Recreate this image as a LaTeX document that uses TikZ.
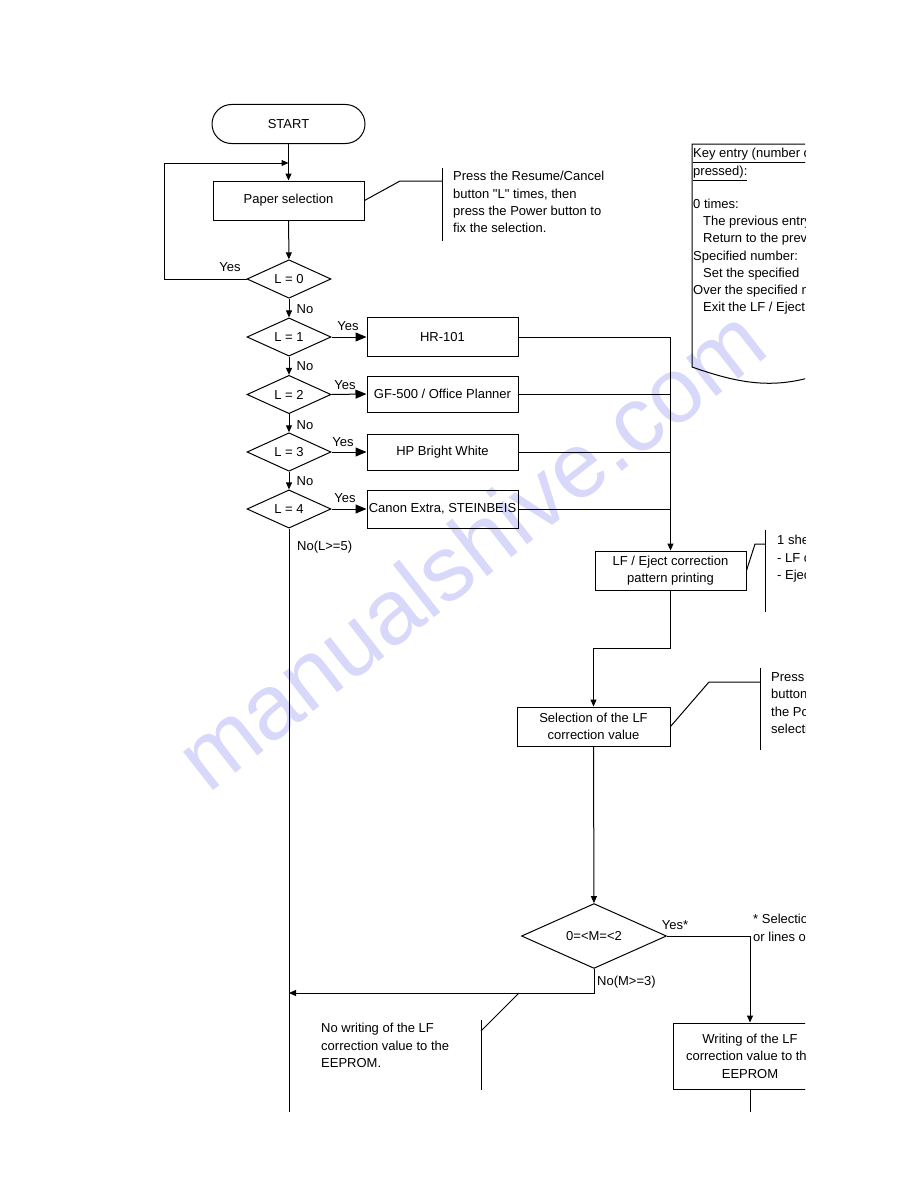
\documentclass[tikz,border=0pt]{standalone}
\usepackage{fontspec}
\setmainfont{Liberation Sans}
\newfontfamily\qf{Liberation Sans}
\usetikzlibrary{shapes.geometric,arrows.meta}
\definecolor{wm}{RGB}{216,216,250}
\newcommand{\sq}{{\qf"}}
\begin{document}
\begin{tikzpicture}[x=1pt,y=-1pt,
  font=\fontsize{13}{17.4}\selectfont,
  ln/.style={line width=1pt},
  box/.style={draw,ln,rectangle,inner sep=0pt,align=center},
  dia/.style={draw,ln,diamond,inner sep=0pt,minimum width=84pt,minimum height=38pt},
  arr/.style={ln,-{Triangle[length=7pt,width=6pt]}},
  barr/.style={ln,-{Triangle[length=11pt,width=9pt]}},
  tx/.style={anchor=west,inner sep=0pt,text height=9.4pt,text depth=0pt},
  tc/.style={anchor=center,inner sep=0pt,text height=9.4pt,text depth=0pt},
]
\useasboundingbox (0,0) rectangle (918,1188);
\fill[white] (0,0) rectangle (918,1188);
\begin{scope}
\clip (0,0) rectangle (805,1188);
% watermark
\node[rotate=38,text=wm,font=\fontsize{92}{92}\selectfont,inner sep=0pt] (wmk) at (470,548) {manualshive.com};

% main nodes
\node[draw,ln,rounded corners=19.5pt,minimum width=153pt,minimum height=39pt,inner sep=0pt] (start) at (288.5,124) {START};
\node[box,minimum width=151pt,minimum height=39pt] (paper) at (288.5,200.5) {Paper selection};
\node[dia] (d0) at (289,279) {L = 0};
\node[dia] (d1) at (289,337) {L = 1};
\node[dia,minimum height=37pt] (d2) at (289,394.5) {L = 2};
\node[dia,minimum height=36pt] (d3) at (289,452) {L = 3};
\node[dia] (d4) at (289,509) {L = 4};
\node[box,minimum width=151pt,minimum height=39pt] (b1) at (442.5,337) {HR-101};
\node[box,minimum width=151pt,minimum height=36pt] (b2) at (442.5,394) {GF-500 / Office Planner};
\node[box,minimum width=151pt,minimum height=36pt] (b3) at (442.5,452) {HP Bright White};
\node[box,minimum width=151pt,minimum height=38pt] (b4) at (442.5,509) {Canon Extra, STEINBEIS};
\node[box,minimum width=151pt,minimum height=39pt] (lf) at (670.5,570.5) {LF / Eject correction\\pattern printing};
\node[box,minimum width=153pt,minimum height=39pt] (sel) at (593.5,726.5) {Selection of the LF\\correction value};
\node[draw,ln,diamond,inner sep=0pt,minimum width=145pt,minimum height=52pt] (m) at (594,936) {0=<M=<2};
\node[box,minimum width=154pt,minimum height=66pt] (wr) at (750,1056) {Writing of the LF\\correction value to the\\EEPROM};

% helper coordinates
\coordinate (loopL) at (164,279);
\coordinate (loopT) at (164,163);
\coordinate (loopin) at (288.5,163);
\coordinate (bus1) at (670.5,337);
\coordinate (bus2) at (670.5,394);
\coordinate (bus3) at (670.5,452);
\coordinate (bus4) at (670.5,509);
\coordinate (lfdown) at (670.5,648);
\coordinate (seltop) at (593.5,648);
\coordinate (myes) at (750,936);
\coordinate (mno) at (594,993);
\coordinate (join) at (289,993);
\coordinate (endL) at (289,1112);
\coordinate (endR) at (750,1112);

% connectors
\draw[arr] (start) -- (paper);
\draw[arr] (d0.west) -- (loopL) -- (loopT) -- (loopin);
\draw[arr] (paper) -- (d0);
\draw[arr] (d0) -- (d1);
\draw[arr] (d1) -- (d2);
\draw[arr] (d2) -- (d3);
\draw[arr] (d3) -- (d4);
\draw[barr] (d1.east) -- (b1.west);
\draw[barr] (d2.east) -- (b2.west);
\draw[barr] (d3.east) -- (b3.west);
\draw[barr] (d4.east) -- (b4.west);
\draw[ln] (b1.east) -- (bus1);
\draw[ln] (b2.east) -- (bus2);
\draw[ln] (b3.east) -- (bus3);
\draw[ln] (b4.east) -- (bus4);
\draw[arr] (bus1) -- (lf.north);
\draw[ln] (d4.south) -- (endL);
\draw[arr] (lf.south) -- (lfdown) -- (seltop) -- (sel.north);
\draw[arr] (sel) -- (m);
\draw[arr] (m.east) -- (myes) -- (wr.north);
\draw[arr] (m.south) -- (mno) -- (join);
\draw[ln] (wr.south) -- (endR);

% branch labels
\node[tc] (y0) at (230,267) {Yes};
\node[tc] (n0) at (305,309) {No};
\node[tc] (n1) at (305,366) {No};
\node[tc] (n2) at (305,425) {No};
\node[tc] (n3) at (305,481) {No};
\node[tc] (y1) at (348,326) {Yes};
\node[tc] (y2) at (345,385) {Yes};
\node[tc] (y3) at (343,442) {Yes};
\node[tc] (y4) at (345,498) {Yes};
\node[tx] (n4) at (297,546) {No(L>=5)};
\node[tc] (ym) at (675,925) {Yes*};
\node[tx] (nm) at (597,981) {No(M>=3)};

% annotation 1
\coordinate (a1k) at (400,181);
\coordinate (a1h) at (442,181);
\coordinate (a1t) at (442,168);
\coordinate (a1b) at (442,241);
\draw[ln] (paper.east) -- (a1k) -- (a1h);
\draw[ln] (a1t) -- (a1b);
\node[tx] (t1a) at (453,176) {Press the Resume/Cancel};
\node[tx] (t1b) at (453,193.5) {button \sq L\sq{} times, then};
\node[tx] (t1c) at (453,211) {press the Power button to};
\node[tx] (t1d) at (453,228) {fix the selection.};

% key entry document box
\coordinate (kTL) at (692,144);
\coordinate (kTR) at (830,144);
\coordinate (kBL) at (692,367);
\coordinate (kBR) at (815,376);
\draw[ln] (kTR) -- (kTL) -- (kBL) .. controls (735,382) and (770,390) .. (kBR);
\node[tx] (k1) at (693,153) {\underline{Key entry (number of times}};
\node[tx] (k2) at (693,171) {\underline{pressed):}};
\node[tx] (k3) at (693,204) {0 times:};
\node[tx] (k4) at (703,221) {The previous entry is};
\node[tx] (k5) at (703,238) {Return to the previous};
\node[tx] (k6) at (693,256) {Specified number:};
\node[tx] (k7) at (703,273) {Set the specified};
\node[tx] (k8) at (693,290) {Over the specified number:};
\node[tx] (k9) at (703,307) {Exit the LF / Eject correction};

% annotation 2
\coordinate (a2k) at (755,544);
\coordinate (a2h) at (765,544);
\coordinate (a2t) at (765,530);
\coordinate (a2b) at (765,612);
\draw[ln] (lf.east) -- (a2k) -- (a2h);
\draw[ln] (a2t) -- (a2b);
\node[tx] (t2a) at (777,540) {1 sheet is printed};
\node[tx] (t2b) at (777,558) {- LF correction};
\node[tx] (t2c) at (777,575) {- Eject correction};

% annotation 3
\coordinate (a3k) at (709,682);
\coordinate (a3h) at (760,682);
\coordinate (a3t) at (760,668);
\coordinate (a3b) at (760,750);
\draw[ln] (sel.east) -- (a3k) -- (a3h);
\draw[ln] (a3t) -- (a3b);
\node[tx] (t3a) at (771,677) {Press the Resume/Cancel};
\node[tx] (t3b) at (771,694) {button \sq M\sq{} times, then};
\node[tx] (t3c) at (771,712) {the Power button to fix};
\node[tx] (t3d) at (771,729) {selection.};

% annotation 4
\coordinate (a4s) at (519,993);
\coordinate (a4k) at (481,1031);
\coordinate (a4t) at (481,1020);
\coordinate (a4b) at (481,1090);
\draw[ln] (a4s) -- (a4k);
\draw[ln] (a4t) -- (a4b);
\node[tx] (t4a) at (321,1028) {No writing of the LF};
\node[tx] (t4b) at (321,1046) {correction value to the};
\node[tx] (t4c) at (321,1063) {EEPROM.};

% footnote
\node[tx] (s1) at (753,919) {* Selection of};
\node[tx] (s2) at (753,937) {or lines of};
\end{scope}
\end{tikzpicture}
\end{document}
